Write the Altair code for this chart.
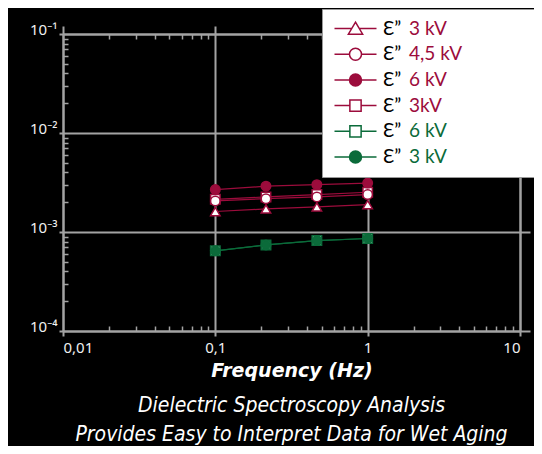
import altair as alt
import pandas as pd

# ---------------- data ----------------
freq_hz = [0.1, 0.215, 0.464, 1.0]

series_keys = ["1 Ɛ” 3 kV", "2 Ɛ” 4,5 kV", "3 Ɛ” 6 kV", "4 Ɛ” 3kV", "5 Ɛ” 6 kV", "6 Ɛ” 3 kV"]

eps_red_triangle_3kv = [1.61e-3, 1.71e-3, 1.79e-3, 1.89e-3]
eps_red_circle_45kv = [2.06e-3, 2.17e-3, 2.26e-3, 2.39e-3]
eps_red_dot_6kv = [2.68e-3, 2.90e-3, 3.01e-3, 3.12e-3]
eps_red_square_3kv = [2.14e-3, 2.26e-3, 2.39e-3, 2.52e-3]
eps_green_square_6kv = [6.45e-4, 7.40e-4, 8.20e-4, 8.60e-4]
eps_green_dot_3kv = [6.45e-4, 7.40e-4, 8.20e-4, 8.60e-4]

series_values = [eps_red_triangle_3kv, eps_red_circle_45kv, eps_red_dot_6kv,
                 eps_red_square_3kv, eps_green_square_6kv, eps_green_dot_3kv]

# drawing order of markers (squares under circles)
draw_order = [3, 0, 1, 2, 4, 5]

x_major = [0.01, 0.1, 1, 10]
y_major = [1e-4, 1e-3, 1e-2, 1e-1]
x_minor = [k * 10.0 ** e for e in (-2, -1, 0) for k in range(2, 10)]
y_minor = [k * 10.0 ** e for e in (-4, -3, -2) for k in range(2, 10)]

title_lines = ["Dielectric Spectroscopy Analysis",
               "Provides Easy to Interpret Data for Wet Aging"]

# ---------------- styles ----------------
RED = "#9c0c3c"
GREEN = "#0b6b3a"
GRID = "#a3a3a3"
stroke_colors = [RED, RED, RED, RED, GREEN, GREEN]
fill_colors = ["white", "white", RED, "white", "white", GREEN]
marker_shapes = ["triangle-up", "circle", "circle", "square", "square", "circle"]
legend_shapes = [
    "M-2.8,0H-0.5M0.5,0H2.8M0,-0.85L0.95,0.75H-0.95Z",
    "M-2.8,0H-0.8M0.8,0H2.8M-0.8,0A0.8,0.8,0,1,1,0.8,0A0.8,0.8,0,1,1,-0.8,0Z",
    "M-2.8,0H-0.8M0.8,0H2.8M-0.8,0A0.8,0.8,0,1,1,0.8,0A0.8,0.8,0,1,1,-0.8,0Z",
    "M-2.8,0H-0.75M0.75,0H2.8M-0.75,-0.75H0.75V0.75H-0.75Z",
    "M-2.8,0H-0.75M0.75,0H2.8M-0.75,-0.75H0.75V0.75H-0.75Z",
    "M-2.8,0H-0.8M0.8,0H2.8M-0.8,0A0.8,0.8,0,1,1,0.8,0A0.8,0.8,0,1,1,-0.8,0Z",
]

rows = []
for i in draw_order:
    for f, v in zip(freq_hz, series_values[i]):
        rows.append({"freq": f, "eps": v, "series": series_keys[i]})
df = pd.DataFrame(rows)

W, H = 457, 297
LABEL_FONT = "Noto Sans"
x_scale = alt.Scale(type="log", domain=[0.01, 10], nice=False)
y_scale = alt.Scale(type="log", domain=[1e-4, 1e-1], nice=False)


def X(axis):
    return alt.X("freq:Q", scale=x_scale, axis=axis)


def Y(axis):
    return alt.Y("eps:Q", scale=y_scale, axis=axis)


def minor_axis(orient, offset, values):
    return alt.Axis(orient=orient, offset=offset, values=values, tickSize=5, tickWidth=1.5,
                    tickColor=GRID, labels=False, domain=False, grid=False, title=None)


ax_bottom = alt.Axis(orient="bottom", values=x_major,
                     labelExpr="replace(toString(datum.value), '.', ',')",
                     tickSize=5, tickWidth=2, tickColor=GRID,
                     domainColor=GRID, domainWidth=2,
                     grid=True, gridColor=GRID, gridWidth=2, gridOpacity=1,
                     labelColor="#f0f0f0", labelFont=LABEL_FONT, labelFontSize=15, labelPadding=4,
                     title="Frequency (Hz)", titleFont="DejaVu Sans", titleFontSize=19,
                     titleFontWeight="bold", titleFontStyle="italic", titleColor="white",
                     titlePadding=6)
ax_left = alt.Axis(orient="left", values=y_major,
                   labelExpr="'10⁻' + ['', '¹', '²', '³', '⁴'][round(-log(datum.value) / LN10)]",
                   tickSize=4, tickWidth=2, tickColor=GRID,
                   domainColor=GRID, domainWidth=2,
                   grid=True, gridColor=GRID, gridWidth=2, gridOpacity=1,
                   labelColor="#f0f0f0", labelFont=LABEL_FONT, labelFontSize=15, labelPadding=2,
                   labelBaseline="alphabetic", title=None)
ax_top_major = alt.Axis(orient="top", values=x_major, tickSize=8, tickWidth=2, tickColor=GRID,
                        domain=True, domainColor=GRID, domainWidth=2,
                        labels=False, grid=False, title=None)
ax_right_major = alt.Axis(orient="right", values=y_major, tickSize=10, tickWidth=2, tickColor=GRID,
                          domain=True, domainColor=GRID, domainWidth=2,
                          labels=False, grid=False, title=None)

legend_common = dict(orient="none", legendX=259, legendY=-25, title=None,
                     labelFont="Lato", labelFontSize=19,
                     symbolOffset=14, symbolSize=225, symbolStrokeWidth=1.5,
                     padding=10, rowPadding=5.7)

# coloured voltage labels (padded with blank cells so the box reaches the right edge)
BLANK = "\u2800"
legend = alt.Legend(labelExpr=f"substring(datum.label, 5) + '{BLANK * 5}'",
                    labelColor=alt.ExprRef(expr=f"datum.value >= '5' ? '{GREEN}' : '{RED}'"),
                    labelOffset=44, symbolFillColor="white",
                    fillColor="white", strokeColor="#9a9a9a", **legend_common)
# black epsilon prefix in front of the coloured labels
legend_eps = alt.Legend(labelExpr="'Ɛ”'", labelColor="black", labelOffset=18,
                        symbolOpacity=0, zindex=1, **legend_common)

base = alt.Chart(df)

lines = base.mark_line(strokeWidth=1.2).encode(
    x=X(ax_bottom), y=Y(ax_left),
    color=alt.Color("series:N", scale=alt.Scale(domain=series_keys, range=stroke_colors), legend=None),
)

points = base.mark_point(size=90, strokeWidth=1.5, opacity=1).encode(
    x=X(minor_axis("top", -H, x_minor)), y=Y(minor_axis("right", -W, y_minor)),
    color=alt.Color("series:N", scale=alt.Scale(domain=series_keys, range=stroke_colors), legend=None),
    fill=alt.Fill("series:N", scale=alt.Scale(domain=series_keys, range=fill_colors), legend=None),
    shape=alt.Shape("series:N", scale=alt.Scale(domain=series_keys, range=marker_shapes), legend=None),
)

legend_layer = base.transform_filter("datum.eps < 0").mark_point(
    size=225, strokeWidth=1.5, opacity=1).encode(
    x=X(minor_axis("bottom", -H, x_minor)), y=Y(ax_right_major),
    color=alt.Color("series:N", scale=alt.Scale(domain=series_keys, range=stroke_colors), legend=legend),
    fill=alt.Fill("series:N", scale=alt.Scale(domain=series_keys, range=fill_colors), legend=legend),
    shape=alt.Shape("series:N", scale=alt.Scale(domain=series_keys, range=legend_shapes), legend=legend),
)

frame_layer = base.transform_filter("datum.eps < 0").mark_point(opacity=0).encode(
    x=X(ax_top_major), y=Y(None),
    shape=alt.Shape("series:N", scale=alt.Scale(domain=series_keys, range=legend_shapes), legend=legend_eps),
)

chart = alt.layer(lines, points, legend_layer, frame_layer).resolve_scale(
    color="independent", fill="independent", shape="independent"
).resolve_axis(
    x="independent", y="independent"
).properties(
    width=W, height=H,
    background="black",
    padding={"left": 55, "top": 26, "right": 14, "bottom": 115},
    autosize=alt.AutoSizeParams(type="none"),
    title=alt.TitleParams(text=title_lines, orient="bottom", anchor="middle",
                          font="Liberation Sans Narrow, DejaVu Sans Condensed, sans-serif",
                          fontSize=21, fontStyle="italic", fontWeight="normal",
                          color="white", lineHeight=29, offset=15),
).configure_view(stroke=None)

chart.save("out.html", embed_options={"renderer": "svg", "actions": False})
